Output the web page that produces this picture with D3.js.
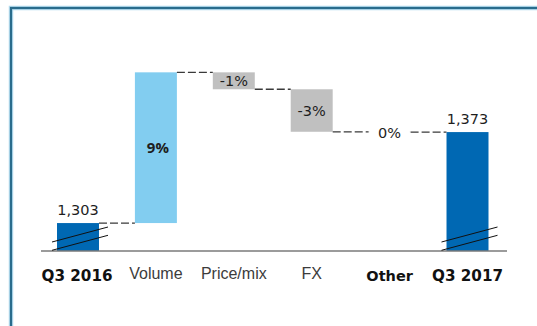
<!DOCTYPE html>
<html>
<head>
<meta charset="utf-8">
<script src="https://cdn.jsdelivr.net/npm/d3@7/dist/d3.min.js"></script>
<style>
  html, body { margin: 0; padding: 0; background: #fff; }
  svg { display: block; }
</style>
</head>
<body>
<svg id="chart" width="537" height="326"></svg>
<script>
// Net sales bridge, Q3 2016 → Q3 2017
const categories = ["Q3 2016", "Volume", "Price/mix", "FX", "Other", "Q3 2017"];
const kinds = ["total", "up", "down", "down", "down", "total"];
// Totals (start and end of the bridge)
const totals = [1303, 1373];
// Changes in percent of the Q3 2016 base
const pctChanges = [8.9, -1.0, -2.51, -0.02];
// Categories set in the bold face
const boldCategories = ["Q3 2016", "Other", "Q3 2017"];

const colors = { total: "#0068b3", up: "#82cdf0", down: "#c0c0c0" };

const svg = d3.select("#chart");
const W = 537, H = 326;

// Frame
svg.append("rect").attr("x", 11).attr("y", 8).attr("width", 600).attr("height", 400)
  .attr("fill", "none").attr("stroke", "#b4dcef").attr("stroke-width", 4.5);
svg.append("rect").attr("x", 11).attr("y", 8).attr("width", 600).attr("height", 400)
  .attr("fill", "none").attr("stroke", "#2a6c8c").attr("stroke-width", 2.2);

// Build bridge steps
const base = totals[0];
const steps = [];
let running = base;
categories.forEach((c, i) => {
  if (kinds[i] === "total") {
    const v = i === 0 ? totals[0] : totals[1];
    steps.push({ cat: c, kind: "total", start: null, end: v, label: d3.format(",")(v) });
    running = v;
  } else {
    const pct = pctChanges[i - 1];
    const delta = base * pct / 100;
    const r = Math.round(pct);
    steps.push({ cat: c, kind: kinds[i], start: running, end: running + delta,
                 label: (r === 0 ? 0 : r) + "%" });
    running += delta;
  }
});

const baselineY = 251;
const x = d3.scaleBand().domain(categories).range([57, 488.5])
  .paddingInner(0.461).paddingOuter(0);
const y = d3.scaleLinear().domain([1281.5, 1440]).range([baselineY, 45]);

// Bars
const bars = svg.append("g");
steps.forEach(s => {
  const x0 = x(s.cat), w = x.bandwidth();
  let top, bottom;
  if (s.kind === "total") { top = y(s.end); bottom = y.range()[0]; }
  else { top = y(Math.max(s.start, s.end)); bottom = y(Math.min(s.start, s.end)); }
  s.x0 = x0; s.x1 = x0 + w; s.top = top; s.bottom = bottom;
  bars.append("rect").attr("x", x0).attr("y", top).attr("width", w)
    .attr("height", Math.max(0, bottom - top)).attr("fill", colors[s.kind]);
});

// Dashed connectors between consecutive bars
const conn = svg.append("g").attr("stroke", "#3a3a3a").attr("stroke-width", 1.3)
  .attr("stroke-dasharray", "8,3").attr("fill", "none");
for (let i = 0; i < steps.length - 1; i++) {
  const a = steps[i], b = steps[i + 1];
  const level = a.end;
  conn.append("line").attr("x1", a.x1).attr("x2", b.x0)
    .attr("y1", y(level)).attr("y2", y(level));
}

// Axis baseline
svg.append("line").attr("x1", 41).attr("x2", 507).attr("y1", baselineY).attr("y2", baselineY)
  .attr("stroke", "#7a7a7a").attr("stroke-width", 1.5);

// Broken-axis marks on total bars
steps.filter(s => s.kind === "total").forEach(s => {
  [[0.7, 15.7], [9, 24]].forEach(([d0, d1]) => {
    svg.append("line")
      .attr("x1", s.x0 - 5).attr("y1", baselineY - d0)
      .attr("x2", s.x1 + 9).attr("y2", baselineY - d1)
      .attr("stroke", "#111").attr("stroke-width", 1);
  });
});

// Value labels
const labels = svg.append("g").attr("fill", "#1e1e1e").attr("text-anchor", "middle");
steps.forEach(s => {
  const cx = s.x0 + x.bandwidth() / 2;
  if (s.kind === "total") {
    labels.append("text").attr("x", cx).attr("y", s.top - 8)
      .attr("font-family", "DejaVu Sans").attr("font-size", 14.5).text(s.label);
  } else if (s.kind === "up") {
    labels.append("text").attr("x", cx + 2).attr("y", (s.top + s.bottom) / 2 + 5.5)
      .attr("font-family", "Open Sans").attr("font-weight", 700)
      .attr("font-size", 15).text(s.label);
  } else if (s.bottom - s.top > 2) {
    labels.append("text").attr("x", cx).attr("y", (s.top + s.bottom) / 2 + 5.5)
      .attr("font-family", "DejaVu Sans").attr("font-size", 14.5).text(s.label);
  } else {
    // near-zero step: label sits on the connector, with a gap in the dashes
    const yy = y(s.start);
    labels.append("rect").attr("x", cx - 20).attr("y", yy - 8).attr("width", 40)
      .attr("height", 14).attr("fill", "#fff");
    labels.append("text").attr("x", cx).attr("y", yy + 6)
      .attr("font-family", "DejaVu Sans").attr("font-size", 14.5).text(s.label);
  }
});

// Category axis
const axisG = svg.append("g").attr("transform", `translate(0,${baselineY})`)
  .call(d3.axisBottom(x).tickSize(0).tickSizeOuter(0));
axisG.select(".domain").remove();
axisG.selectAll(".tick text").each(function(d) {
  const t = d3.select(this).attr("dy", null);
  if (boldCategories.includes(d)) {
    t.attr("y", 29.5).attr("font-family", "DejaVu Sans").attr("font-weight", "bold")
      .attr("font-size", d === "Other" ? 14.5 : 15.2).attr("fill", "#111");
  } else {
    t.attr("y", 27.5).attr("font-family", "Liberation Sans").attr("font-size", 16)
      .attr("fill", "#3c3c3c");
  }
});
axisG.select(".tick:first-of-type text").attr("dx", -1);
</script>
</body>
</html>
